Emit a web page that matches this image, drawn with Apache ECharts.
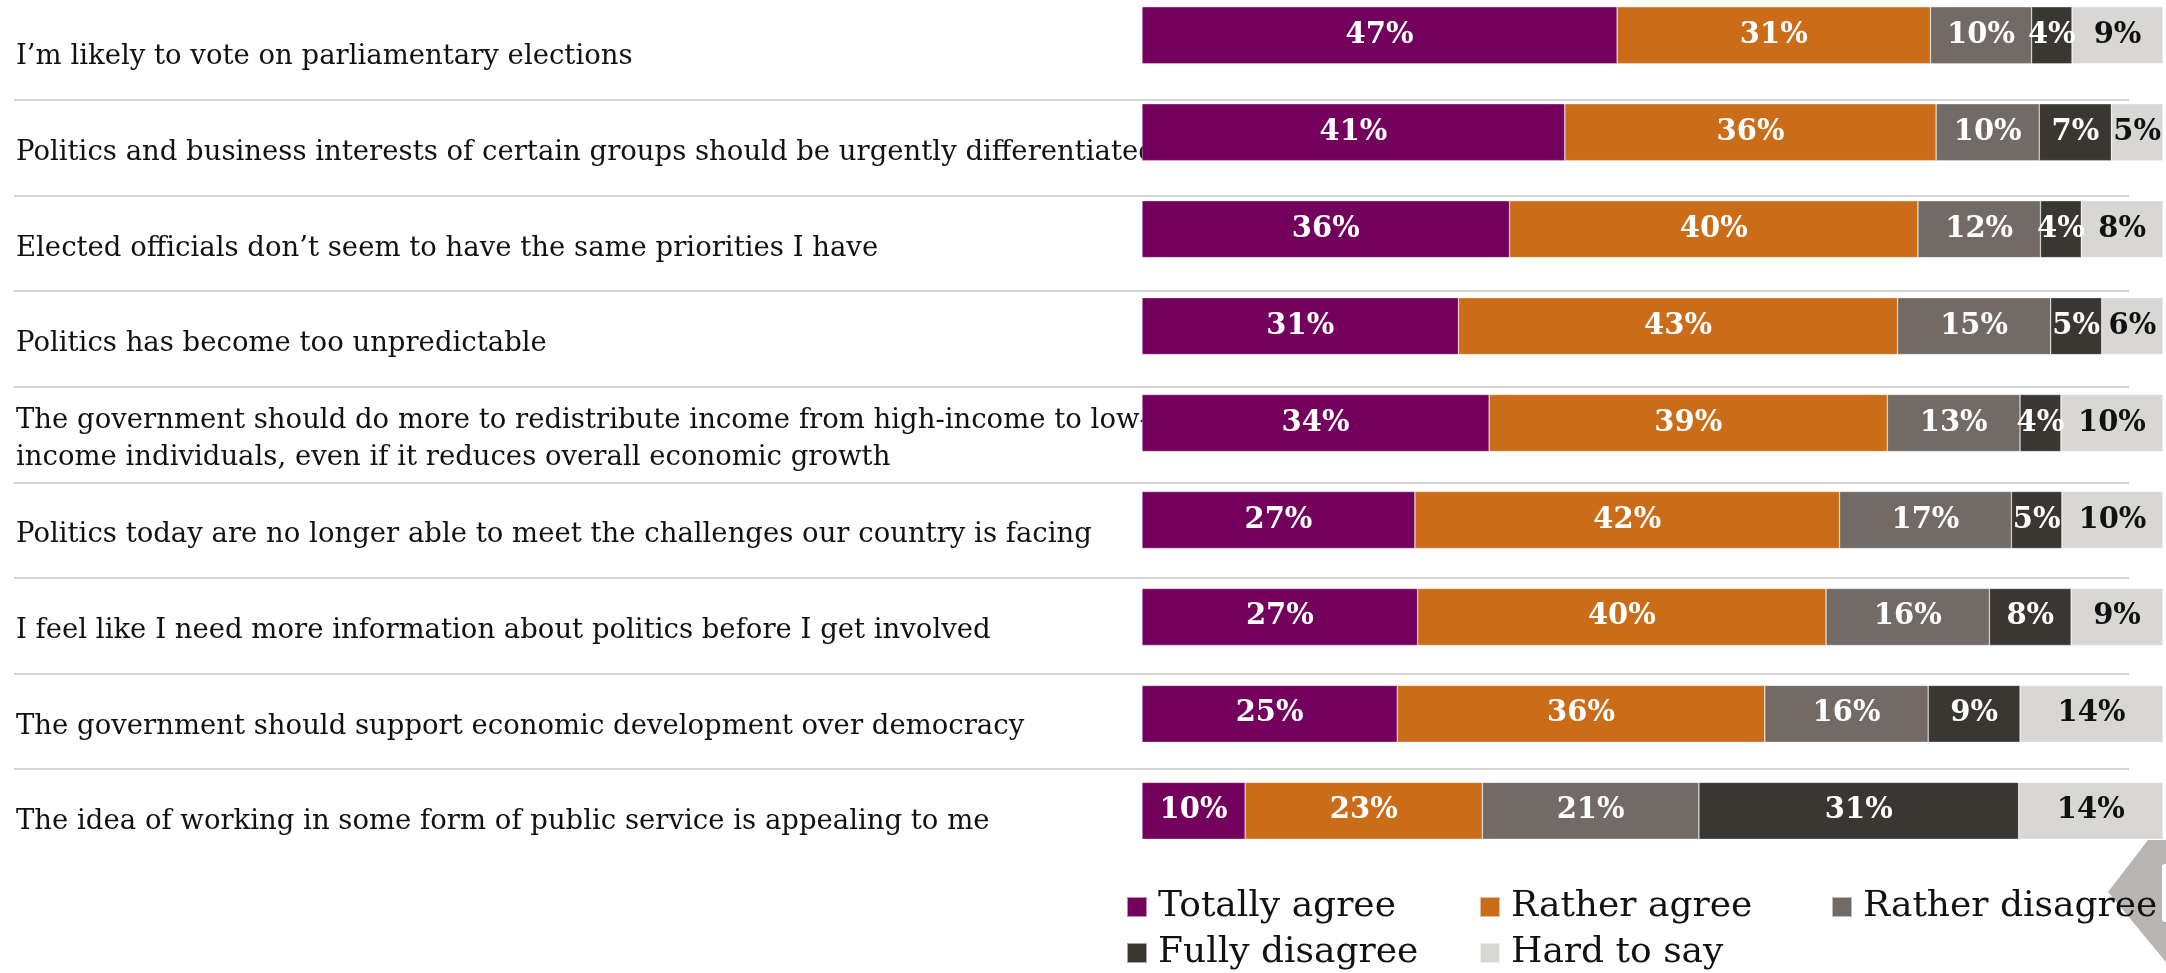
<!DOCTYPE html>
<html><head><meta charset="utf-8">
<script src="https://cdn.jsdelivr.net/npm/echarts@6/dist/echarts.min.js"></script>
<style>html,body{margin:0;padding:0;background:#fff;}#c{width:2166px;height:973px;}</style>
</head><body><div id="c"></div>
<script>
const categories = [
  'I\u2019m likely to vote on parliamentary elections',
  'Politics and business interests of certain groups should be urgently differentiated',
  'Elected officials don\u2019t seem to have the same priorities I have',
  'Politics has become too unpredictable',
  'The government should do more to redistribute income from high-income to low-\nincome individuals, even if it reduces overall economic growth',
  'Politics today are no longer able to meet the challenges our country is facing',
  'I feel like I need more information about politics before I get involved',
  'The government should support economic development over democracy',
  'The idea of working in some form of public service is appealing to me'
];
const seriesNames = ['Totally agree', 'Rather agree', 'Rather disagree', 'Fully disagree', 'Hard to say'];
const totallyAgree   = [47, 41, 36, 31, 34, 27, 27, 25, 10];
const ratherAgree    = [31, 36, 40, 43, 39, 42, 40, 36, 23];
const ratherDisagree = [10, 10, 12, 15, 13, 17, 16, 16, 21];
const fullyDisagree  = [4, 7, 4, 5, 4, 5, 8, 9, 31];
const hardToSay      = [9, 5, 8, 6, 10, 10, 9, 14, 14];

const colors = ['#74005E', '#CB6C18', '#726A64', '#3A3732', '#D9D7D3'];
const values = [totallyAgree, ratherAgree, ratherDisagree, fullyDisagree, hardToSay];
const rowTotals = categories.map((_, i) => values.reduce((s, arr) => s + arr[i], 0));

const serif = 'DejaVu Serif';
const series = seriesNames.map((name, k) => ({
  name: name,
  type: 'bar',
  stack: 'total',
  xAxisIndex: 1,
  yAxisIndex: 1,
  barWidth: 57,
  emphasis: { disabled: true },
  itemStyle: { color: colors[k], borderColor: 'rgba(255,255,255,0.55)', borderWidth: 0.6 },
  label: {
    show: true,
    position: 'inside',
    formatter: p => values[k][p.dataIndex] + '%',
    color: k === 4 ? '#111111' : '#ffffff',
    fontFamily: serif,
    fontWeight: 'bold',
    fontSize: 29
  },
  data: values[k].map((v, i) => v / rowTotals[i] * 100)
}));

const legendLeft = [1121, 1474, 1826, 1121, 1474];
const legendTop = [884, 884, 884, 930, 930];

const option = {
  backgroundColor: '#ffffff',
  animation: false,
  grid: [
    { left: 14, right: 37, top: 4.4, height: 860.4, outerBoundsMode: 'none' },
    { left: 1142, right: 3, top: -13.2, height: 872.5, outerBoundsMode: 'none' },
    { left: 14, right: 37, top: 9.4, height: 860.4, outerBoundsMode: 'none' }
  ],
  xAxis: [
    { type: 'value', gridIndex: 0, show: false, min: 0, max: 100 },
    { type: 'value', gridIndex: 1, show: false, min: 0, max: 100 },
    { type: 'value', gridIndex: 2, show: false, min: 0, max: 100 }
  ],
  yAxis: [
    {
      type: 'category', gridIndex: 0, data: categories, inverse: true,
      axisLine: { show: false }, axisTick: { show: false }, axisLabel: { show: false },
      splitLine: { show: true, showMinLine: false, showMaxLine: false, lineStyle: { color: '#D6D4D1', width: 2 } }
    },
    {
      type: 'category', gridIndex: 1, data: categories, inverse: true, show: false
    },
    {
      type: 'category', gridIndex: 2, data: categories, inverse: true,
      axisLine: { show: false }, axisTick: { show: false }, splitLine: { show: false },
      axisLabel: { align: 'left', margin: -2, fontFamily: serif, fontSize: 27.5, color: '#111111', lineHeight: 37 }
    }
  ],
  legend: seriesNames.map((name, k) => ({
    data: [name],
    left: legendLeft[k],
    top: legendTop[k],
    icon: 'rect',
    itemWidth: 20,
    itemHeight: 20,
    selectedMode: false,
    z: 10,
    textStyle: { fontFamily: serif, fontSize: 36, color: '#111111', padding: [0, 0, 0, 6] }
  })),
  graphic: [
    { type: 'polygon', shape: { points: [[2148, 840], [2166, 840], [2166, 962], [2108, 892]] }, style: { fill: '#B9B5B2' }, z: 1 },
    { type: 'rect', shape: { x: 2162, y: 864, width: 6, height: 58, r: 3 }, style: { fill: '#ffffff' }, z: 2 }
  ],
  series: series
};

const chart = echarts.init(document.getElementById('c'), null, { renderer: 'canvas' });
chart.setOption(option);
</script>
</body></html>
